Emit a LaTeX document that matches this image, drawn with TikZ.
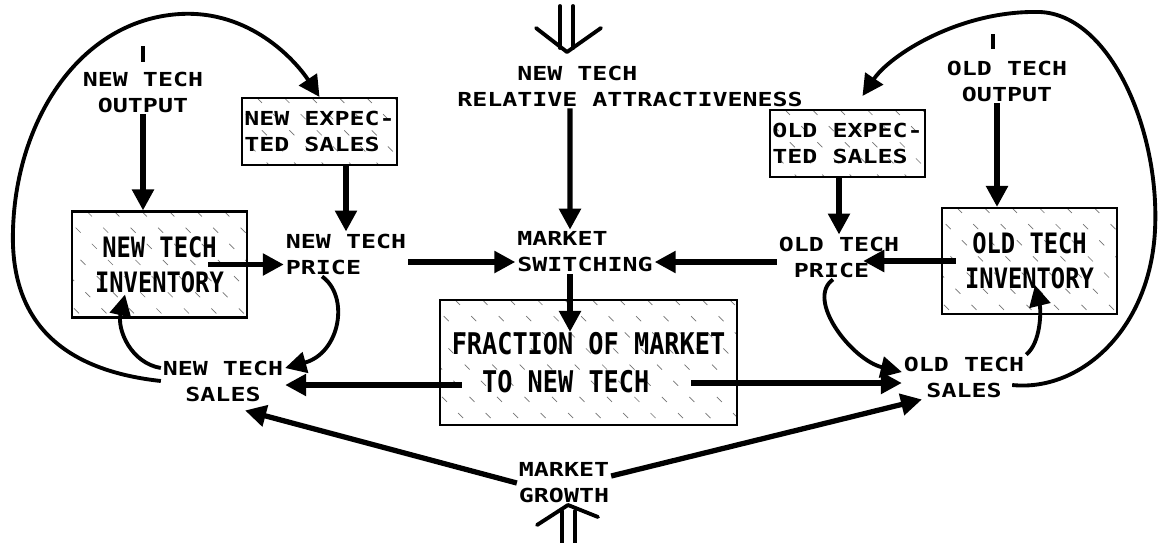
\documentclass[tikz,border=0pt]{standalone}
\usepackage{fontspec}
\usepackage{tikz}
\usetikzlibrary{arrows.meta}
\newfontfamily\letterfont{DejaVu Sans Mono Bold}[FakeStretch=1.29]
\newfontfamily\bigletterfont{DejaVu Sans Mono Bold}[FakeStretch=0.845]

\begin{document}
\begin{tikzpicture}[x=0.02cm,y=-0.02cm,
	lbl/.style={font=\letterfont\fontsize{11}{14.8}\selectfont, align=center, inner sep=1pt},
	hatch/.style={line width=0.4pt, black!55, dash pattern=on 4pt off 9pt},
	stock/.style={draw, line width=1.2pt, fill=white, inner sep=0pt,
		path picture={\foreach \k in {-3,-2.45,...,6.5}
			\draw[hatch] ([xshift=\k cm]path picture bounding box.north west) -- ++(2.6cm,-2.6cm);}},
	smallstock/.style={stock, lbl, align=left, minimum width=3.1cm, minimum height=1.34cm},
	bigstock/.style={stock, font=\bigletterfont\fontsize{16}{19.9}\selectfont, align=center,
		minimum width=3.5cm, minimum height=2.12cm},
	link/.style={line width=3pt, -{Triangle[length=12pt,width=12pt]}},
	loopback/.style={line width=2.2pt, -{Triangle[length=12pt,width=12pt]}},
	src/.style={line width=2.2pt, line cap=round, line join=round},
	tick/.style={line width=2.5pt}]
	\useasboundingbox (0,0) rectangle (1158,542);

	\node[lbl] (ntout) at (143,92) {NEW TECH\\OUTPUT};
	\node[lbl] (otout) at (1007,81) {OLD TECH\\OUTPUT};
	\node[lbl, align=left] (attr) at (630,86) {\phantom{RELA}NEW TECH\\RELATIVE ATTRACTIVENESS};
	\node[smallstock] (nexp) at (319.5,131.5) {NEW EXPEC-\\TED SALES};
	\node[smallstock] (oexp) at (847.5,143.5) {OLD EXPEC-\\TED SALES};
	\node[bigstock] (ninv) at (159.5,264.5) {NEW TECH\\INVENTORY};
	\node[bigstock] (oinv) at (1029.5,261) {OLD TECH\\INVENTORY};
	\node[lbl, align=left] (ntprice) at (346,254) {NEW TECH\\PRICE};
	\node[lbl, align=left] (msw) at (585,252) {MARKET\\SWITCHING};
	\node[lbl, align=left] (otprice) at (839,257) {OLD TECH\\\phantom{O}PRICE};
	\node[bigstock, font=\bigletterfont\fontsize{17}{21.6}\selectfont, align=left,
		minimum width=5.94cm, minimum height=2.5cm] (frac) at (588.5,362.5)
		{FRACTION OF MARKET\\\phantom{FR}TO NEW TECH};
	\node[lbl] (ntsales) at (223,381) {NEW TECH\\SALES};
	\node[lbl] (otsales) at (964,377) {OLD TECH\\SALES};
	\node[lbl] (growth) at (564,483) {MARKET\\GROWTH};

	% sources
	\draw[tick] ([yshift=0.16cm]ntout.north) -- ([yshift=0.48cm]ntout.north);
	\draw[tick] ([xshift=-0.28cm,yshift=0.2cm]otout.north) -- ([xshift=-0.28cm,yshift=0.5cm]otout.north);
	\coordinate (attrsrc) at (567,52);
	\draw[src] (attrsrc) ++(-7,-4) -- ++(0,-42) (attrsrc) ++(6,-4) -- ++(0,-42);
	\draw[src] (attrsrc) ++(-31,-24) -- (attrsrc) -- ++(34,-24);
	\coordinate (growthsrc) at (568,505);
	\draw[src] (growthsrc) ++(-6,6) -- ++(0,40) (growthsrc) ++(7,6) -- ++(0,40);
	\draw[src] (growthsrc) ++(-31,20) -- (growthsrc) -- ++(30,12);

	\draw[link] (ntout.south) -- (ntout.south |- ninv.north);
	\draw[link] ([xshift=-0.2cm]otout.south) -- ([xshift=-0.2cm]otout.south |- oinv.north);
	\draw[link] (attr.south -| msw.north) ++(-15,0) -- ([xshift=-0.3cm]msw.north);
	\draw[link] (nexp.south -| ntprice.north) -- (ntprice.north);
	\draw[link] (oexp.south -| otprice.north) -- (otprice.north);
	\draw[link] ([xshift=-0.8cm]ninv.east) -- (ninv.east -| ntprice.west);
	\draw[link] ([xshift=0.3cm]oinv.west) -- ([xshift=-0.76cm]oinv.west -| otprice.east);
	\draw[link] ([yshift=-0.16cm]ntprice.east) -- ([yshift=-0.16cm]ntprice.east -| msw.west);
	\draw[link] ([yshift=-0.1cm]otprice.west) -- ([yshift=-0.1cm]otprice.west -| msw.east);

	\coordinate (fracin) at ([xshift=-0.37cm,yshift=-0.66cm]frac.north);
	\coordinate (fracl) at ([xshift=0.46cm,yshift=-0.45cm]frac.west);
	\coordinate (fracr) at ([xshift=-0.94cm,yshift=-0.41cm]frac.east);
	\draw[link] (msw.south -| fracin) -- (fracin);
	\draw[link] (fracl) -- (fracl -| ntsales.east);
	\draw[link] (fracr) -- (fracr -| otsales.west);
	\draw[link] (growth.west) -- ([xshift=0.44cm,yshift=-0.14cm]ntsales.south);
	\draw[link] ([yshift=0.14cm]growth.east) -- ([xshift=-0.84cm]otsales.south);

	% feedback loops
	\draw[loopback] ([xshift=-0.48cm]ntprice.south) .. controls +(28,20) and +(55,-15) .. ([yshift=0.26cm]ntsales.east);
	\draw[loopback] ([yshift=0.26cm]ntsales.west) .. controls +(-30,-5) and +(-8,35) .. ([xshift=-0.69cm,yshift=0.48cm]ninv.south);
	\draw[loopback] (ntsales.west) .. controls (60,370) and (10,320) .. (13,230)
		.. controls (16,120) and (80,20) .. (180,14) .. controls (250,10) and (295,60) .. (nexp.north);
	\draw[loopback] ([xshift=-0.12cm]otprice.south) .. controls +(-28,20) and +(-50,-12) .. ([yshift=0.1cm]otsales.west);
	\draw[loopback] (otsales.north east) .. controls +(15,-12) and +(6,25) .. ([xshift=0.11cm,yshift=0.6cm]oinv.south);
	\draw[loopback] ([xshift=-0.28cm,yshift=-0.16cm]otsales.east) .. controls (1080,392) and (1150,330) .. (1155,230)
		.. controls (1160,130) and (1110,15) .. (1040,12) .. controls (960,10) and (890,55) .. ([xshift=0.3cm,yshift=0.26cm]oexp.north);
\end{tikzpicture}
\end{document}
